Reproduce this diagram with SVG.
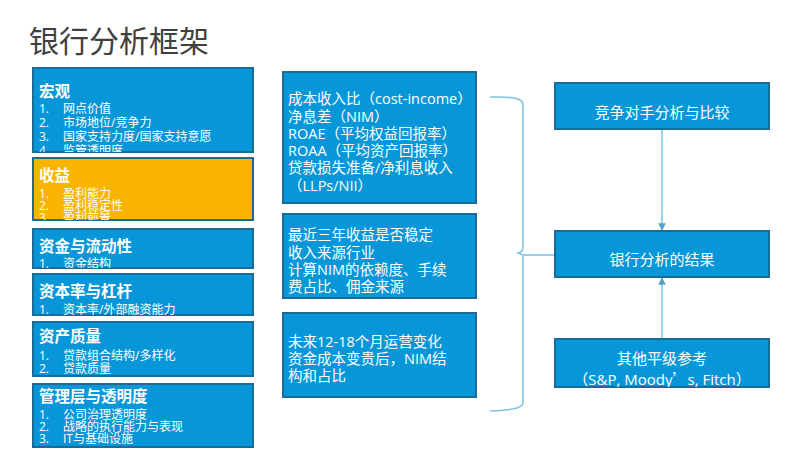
<svg xmlns="http://www.w3.org/2000/svg" width="800" height="450" viewBox="0 0 800 450">
<defs>
<style>
.box{fill:#0797D9;stroke:#1B6B96;stroke-width:2}
.orange{fill:#F8B400;stroke:#1B6B96;stroke-width:2}
text{font-family:"Open Sans","Noto Sans CJK SC",sans-serif;fill:#ffffff}
.h{font-size:15.5px;font-weight:bold}
.i{font-size:12px}
.m{font-size:14.5px}
.c{font-size:15px;text-anchor:middle}
.cjk{font-family:"Noto Sans CJK SC",sans-serif}
.title{font-size:30px;fill:#404040}
.conn{fill:none;stroke:#7CC3E2;stroke-width:1.5}
</style>
<marker id="arr" viewBox="0 0 10 10" refX="9" refY="5" markerWidth="5" markerHeight="5" orient="auto">
<path d="M0,0 L10,5 L0,10 z" fill="#4F9FC9"/>
</marker>
<clipPath id="c1"><rect x="33" y="68" width="220" height="84"/></clipPath>
<clipPath id="c2"><rect x="33" y="158" width="220" height="62"/></clipPath>
<clipPath id="c3"><rect x="33" y="229" width="220" height="39"/></clipPath>
<clipPath id="c4"><rect x="33" y="274" width="220" height="41"/></clipPath>
<clipPath id="c9"><rect x="555" y="339" width="214" height="48"/></clipPath>
</defs>
<rect width="800" height="450" fill="#ffffff"/>
<text class="title" x="29" y="52">银行分析框架</text>

<g id="connectors">
<path class="conn" d="M490,97 Q523,96 523,104 L523,247 Q523,252 518,253 Q523,256 528,255 L555,255 M523,256 L523,403 Q523,410 490,411"/>
<line class="conn" x1="662" y1="129" x2="662" y2="230" marker-end="url(#arr)"/>
<line class="conn" x1="662" y1="339" x2="662" y2="278" marker-end="url(#arr)"/>
</g>

<g id="macro">
<rect class="box" x="33" y="68" width="220" height="84"/>
<g clip-path="url(#c1)">
<text class="h" x="39" y="97">宏观</text>
<text class="i" x="39" y="113">1.</text><text class="i" x="63" y="113">网点价值</text>
<text class="i" x="39" y="127">2.</text><text class="i" x="63" y="127">市场地位/竞争力</text>
<text class="i" x="39" y="141">3.</text><text class="i" x="63" y="141">国家支持力度/国家支持意愿</text>
<text class="i" x="39" y="155">4.</text><text class="i" x="63" y="155">监管透明度</text>
</g>
</g>

<g id="earnings">
<rect class="orange" x="33" y="158" width="220" height="62"/>
<g clip-path="url(#c2)">
<text class="h" x="39" y="181">收益</text>
<text class="i" x="39" y="198">1.</text><text class="i" x="63" y="198">盈利能力</text>
<text class="i" x="39" y="210">2.</text><text class="i" x="63" y="210">盈利稳定性</text>
<text class="i" x="39" y="222">3.</text><text class="i" x="63" y="222">盈利前景</text>
</g>
</g>

<g id="funding">
<rect class="box" x="33" y="229" width="220" height="39"/>
<g clip-path="url(#c3)">
<text class="h" x="39" y="252">资金与流动性</text>
<text class="i" x="39" y="268">1.</text><text class="i" x="63" y="268">资金结构</text>
</g>
</g>

<g id="capital">
<rect class="box" x="33" y="274" width="220" height="41"/>
<g clip-path="url(#c4)">
<text class="h" x="39" y="297">资本率与杠杆</text>
<text class="i" x="39" y="314">1.</text><text class="i" x="63" y="314">资本率/外部融资能力</text>
</g>
</g>

<g id="asset">
<rect class="box" x="33" y="322" width="220" height="54"/>
<text class="h" x="39" y="342">资产质量</text>
<text class="i" x="39" y="360">1.</text><text class="i" x="63" y="360">贷款组合结构/多样化</text>
<text class="i" x="39" y="373">2.</text><text class="i" x="63" y="373">贷款质量</text>
</g>

<g id="management">
<rect class="box" x="33" y="384" width="220" height="63"/>
<text class="h" x="39" y="402">管理层与透明度</text>
<text class="i" x="39" y="419">1.</text><text class="i" x="63" y="419">公司治理透明度</text>
<text class="i" x="39" y="431">2.</text><text class="i" x="63" y="431">战略的执行能力与表现</text>
<text class="i" x="39" y="443">3.</text><text class="i" x="63" y="443">IT与基础设施</text>
</g>

<g id="metrics">
<rect class="box" x="283" y="72" width="193" height="131"/>
<text class="m" x="288" y="104">成本收入比（cost-income）</text>
<text class="m" x="288" y="122">净息差（NIM）</text>
<text class="m" x="288" y="139">ROAE（平均权益回报率）</text>
<text class="m" x="288" y="156">ROAA（平均资产回报率）</text>
<text class="m" x="288" y="173">贷款损失准备/净利息收入</text>
<text class="m" x="288" y="191">（LLPs/NII）</text>
</g>

<g id="stability">
<rect class="box" x="283" y="214" width="193" height="84"/>
<text class="m" x="288" y="240">最近三年收益是否稳定</text>
<text class="m" x="288" y="258">收入来源行业</text>
<text class="m" x="288" y="275">计算NIM的依赖度、手续</text>
<text class="m" x="288" y="292">费占比、佣金来源</text>
</g>

<g id="outlook">
<rect class="box" x="283" y="313" width="193" height="84"/>
<text class="m" x="288" y="347">未来12-18个月运营变化</text>
<text class="m" x="288" y="364">资金成本变贵后，NIM结</text>
<text class="m" x="288" y="381">构和占比</text>
</g>

<g id="peers">
<rect class="box" x="555" y="83" width="214" height="46"/>
<text class="c" x="662" y="118">竞争对手分析与比较</text>
</g>

<g id="result">
<rect class="box" x="555" y="231" width="214" height="46"/>
<text class="c" x="662" y="265">银行分析的结果</text>
</g>

<g id="ratings">
<rect class="box" x="555" y="339" width="214" height="48"/>
<g clip-path="url(#c9)">
<text class="c" x="662" y="364">其他平级参考</text>
<text class="c" x="662" y="385"><tspan class="cjk">（</tspan>S&amp;P, Moody<tspan class="cjk">’</tspan>s, Fitch<tspan class="cjk">）</tspan></text>
</g>
</g>
</svg>
